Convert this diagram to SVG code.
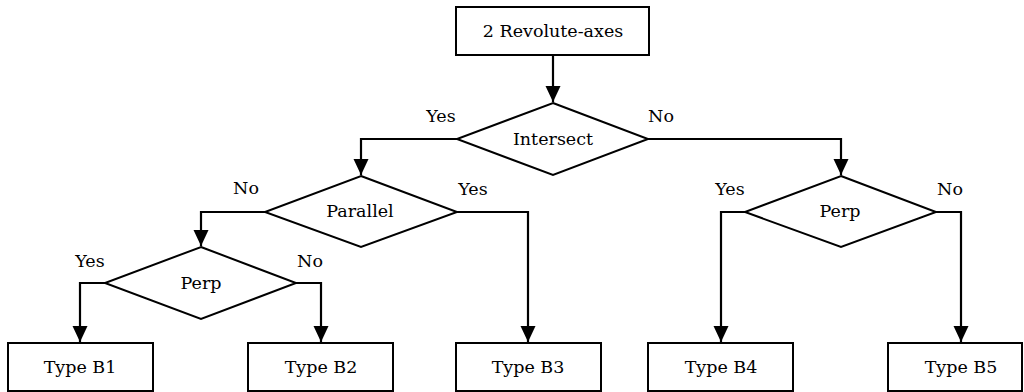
<svg xmlns="http://www.w3.org/2000/svg" width="1024" height="392" viewBox="0 0 1024 392" font-family="DejaVu Serif, serif" font-size="17.5">
<style>
.box{fill:#fff;stroke:#000;stroke-width:2}
.dia{fill:#fff;stroke:#000;stroke-width:2}
.con{fill:none;stroke:#000;stroke-width:2.2}
.c{text-anchor:middle;fill:#000}
</style>
<defs>
<marker id="ah" markerUnits="userSpaceOnUse" markerWidth="17" markerHeight="16" refX="16" refY="7.5" orient="auto">
<path d="M0,0 L16,7.5 L0,15 z" fill="#000"/>
</marker>
</defs>
<rect width="1024" height="392" fill="#fff"/>
<g id="connectors">
<path class="con" d="M553,55 V102" marker-end="url(#ah)"/>
<path class="con" d="M457,139 H361 V175" marker-end="url(#ah)"/>
<path class="con" d="M648,139 H841 V175" marker-end="url(#ah)"/>
<path class="con" d="M265,212 H201 V246" marker-end="url(#ah)"/>
<path class="con" d="M457,212 H528 V342" marker-end="url(#ah)"/>
<path class="con" d="M105,283 H80 V342" marker-end="url(#ah)"/>
<path class="con" d="M296,283 H321 V342" marker-end="url(#ah)"/>
<path class="con" d="M745,212 H721 V342" marker-end="url(#ah)"/>
<path class="con" d="M936,212 H961 V342" marker-end="url(#ah)"/>
</g>
<g id="start">
<rect class="box" x="456" y="7" width="193" height="48"/>
<text class="c" x="553" y="37">2 Revolute-axes</text>
</g>
<g id="intersect">
<polygon class="dia" points="553,103 648,139 553,175 457,139"/>
<text class="c" x="553" y="145">Intersect</text>
<text class="c" x="441" y="122">Yes</text>
<text class="c" x="661" y="122">No</text>
</g>
<g id="parallel">
<polygon class="dia" points="361,176 457,212 361,247 265,212"/>
<text class="c" x="360" y="217">Parallel</text>
<text class="c" x="246" y="194">No</text>
<text class="c" x="473" y="195">Yes</text>
</g>
<g id="perp-left">
<polygon class="dia" points="201,247 296,283 201,319 105,283"/>
<text class="c" x="201" y="289">Perp</text>
<text class="c" x="90" y="267">Yes</text>
<text class="c" x="310" y="267">No</text>
</g>
<g id="perp-right">
<polygon class="dia" points="841,176 936,212 841,247 745,212"/>
<text class="c" x="840" y="217">Perp</text>
<text class="c" x="730" y="195">Yes</text>
<text class="c" x="950" y="195">No</text>
</g>
<g id="typeB1">
<rect class="box" x="8" y="343" width="145" height="48"/>
<text class="c" x="80" y="373">Type B1</text>
</g>
<g id="typeB2">
<rect class="box" x="248" y="343" width="145" height="48"/>
<text class="c" x="321" y="373">Type B2</text>
</g>
<g id="typeB3">
<rect class="box" x="456" y="343" width="145" height="48"/>
<text class="c" x="528" y="373">Type B3</text>
</g>
<g id="typeB4">
<rect class="box" x="648" y="343" width="145" height="48"/>
<text class="c" x="721" y="373">Type B4</text>
</g>
<g id="typeB5">
<rect class="box" x="888" y="343" width="134" height="48"/>
<text class="c" x="961" y="373">Type B5</text>
</g>
</svg>
